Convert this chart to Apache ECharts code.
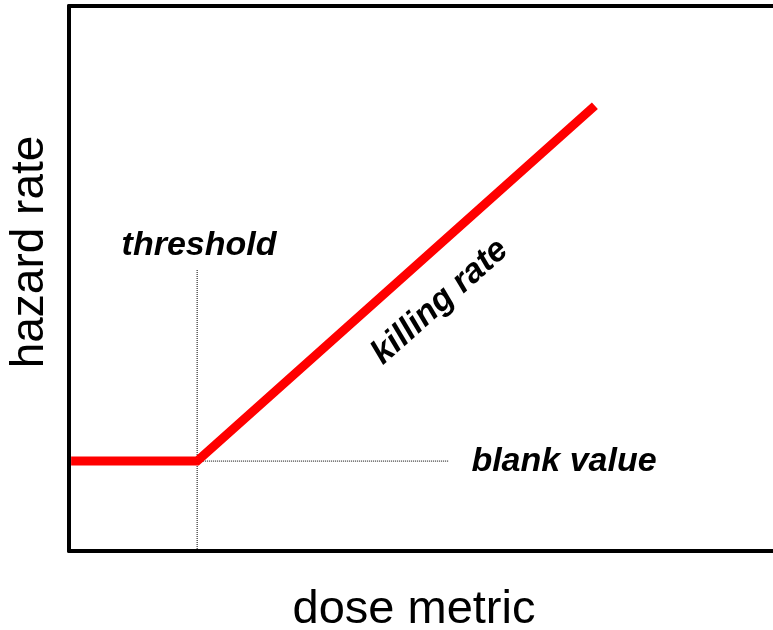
<!DOCTYPE html>
<html><head><meta charset="utf-8">
<script src="https://cdn.jsdelivr.net/npm/echarts@6/dist/echarts.min.js"></script>
<style>html,body{margin:0;padding:0;background:#fff}#c{width:773px;height:630px}</style>
</head><body><div id="c"></div>
<script>
// hazard curve: [dose, hazard]
const hazardCurve = [[0.03, 1.65], [1.82, 1.65], [7.47, 8.17]];
const thresholdLine = [[1.82, 0.0], [1.82, 5.16]];
const blankLine = [[1.82, 1.65], [5.4, 1.65]];
const labels = { x: 'dose metric', y: 'hazard rate', threshold: 'threshold', blank: 'blank value', killing: 'killing rate' };

const chart = echarts.init(document.getElementById('c'));
const font = '"Liberation Sans", Arial, sans-serif';
chart.setOption({
  animation: false,
  grid: { left: 69, right: 0, top: 6, bottom: 79, containLabel: false, outerBoundsMode: 'none' },
  xAxis: [
    { type: 'value', min: 0, max: 10, position: 'bottom',
      axisLine: { lineStyle: { color: '#000', width: 4 } }, axisTick: { show: false },
      axisLabel: { show: false }, splitLine: { show: false } },
    { type: 'value', min: 0, max: 10, position: 'top',
      axisLine: { lineStyle: { color: '#000', width: 4 } }, axisTick: { show: false },
      axisLabel: { show: false }, splitLine: { show: false } }
  ],
  yAxis: { type: 'value', min: 0, max: 10,
    axisLine: { show: true, lineStyle: { color: '#000', width: 4 } }, axisTick: { show: false },
    axisLabel: { show: false }, splitLine: { show: false } },
  series: [
    { type: 'line', data: thresholdLine, symbol: 'none', lineStyle: { color: '#000', width: 1, type: 'dotted' } },
    { type: 'line', data: blankLine, symbol: 'none', lineStyle: { color: '#000', width: 1, type: 'dotted' } },
    { type: 'line', data: hazardCurve, symbol: 'none', lineStyle: { color: '#ff0000', width: 9, cap: 'butt', join: 'miter' }, z: 5 }
  ],
  graphic: [
    { type: 'text', x: 414, y: 610, style: { text: labels.x, font: '47px ' + font, fill: '#000', align: 'center', verticalAlign: 'middle' } },
    { type: 'text', x: 30, y: 252, rotation: Math.PI / 2, style: { text: labels.y, font: '46px ' + font, fill: '#000', align: 'center', verticalAlign: 'middle' } },
    { type: 'text', x: 199, y: 246, style: { text: labels.threshold, font: 'italic bold 34px ' + font, fill: '#000', align: 'center', verticalAlign: 'middle' } },
    { type: 'text', x: 564, y: 462, style: { text: labels.blank, font: 'italic bold 34px ' + font, fill: '#000', align: 'center', verticalAlign: 'middle' } },
    { type: 'text', x: 440, y: 302, rotation: 41.7 * Math.PI / 180, style: { text: labels.killing, font: 'italic bold 34px ' + font, fill: '#000', align: 'center', verticalAlign: 'middle' } }
  ]
});
</script></body></html>
